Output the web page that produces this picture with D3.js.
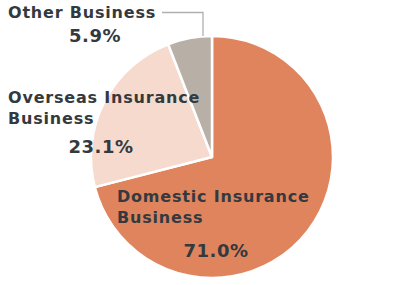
<!DOCTYPE html>
<html><head><meta charset="utf-8">
<script src="https://cdn.jsdelivr.net/npm/d3@7"></script>
<style>body{margin:0;background:#fff}svg{display:block}</style>
</head><body>
<script>
const categories = ["Domestic Insurance Business", "Overseas Insurance Business", "Other Business"];
const values = [71.0, 23.1, 5.9];
const valueLabels = ["71.0%", "23.1%", "5.9%"];
const colors = ["#E0845E", "#F6DACD", "#B8B0A6"];

const W = 417, H = 285, cx = 212, cy = 157, r = 121;
const svg = d3.select("body").append("svg").attr("width", W).attr("height", H);
const pie = d3.pie().sort(null).value(d => d)(values);
const arc = d3.arc().innerRadius(0).outerRadius(r);
const g = svg.append("g").attr("transform", `translate(${cx},${cy})`);
g.selectAll("path").data(pie).join("path")
  .attr("d", arc).attr("fill", (d, i) => colors[i])
  .attr("stroke", "#fff").attr("stroke-width", 2.5).attr("stroke-linejoin", "round");

// leader line for Other
svg.append("polyline")
  .attr("points", `162,12.5 203,12.5 203,36`)
  .attr("fill", "none").attr("stroke", "#b0b0b0").attr("stroke-width", 1.3);

const font = "'DejaVu Sans', Verdana, sans-serif";
const labels = [
  {lines: ["Domestic Insurance", "Business"], x: 117, y: 202, px: 216, py: 257},
  {lines: ["Overseas Insurance", "Business"], x: 8, y: 103, px: 101, py: 153},
  {lines: ["Other Business"], x: 8, y: 18, px: 95, py: 42}
];
labels.forEach((l, i) => {
  const t = svg.append("text").attr("font-family", font).attr("font-size", 16)
    .attr("font-weight", "bold").attr("letter-spacing", 0.8).attr("fill", "#333a3f");
  l.lines.forEach((s, j) => t.append("tspan").attr("x", l.x).attr("y", l.y + j * 20.5).text(s));
  svg.append("text").attr("font-family", font).attr("font-size", 18).attr("font-weight", "bold")
    .attr("letter-spacing", 0.5)
    .attr("fill", "#333a3f").attr("text-anchor", "middle").attr("x", l.px).attr("y", l.py)
    .text(valueLabels[i]);
});
</script>
</body></html>
